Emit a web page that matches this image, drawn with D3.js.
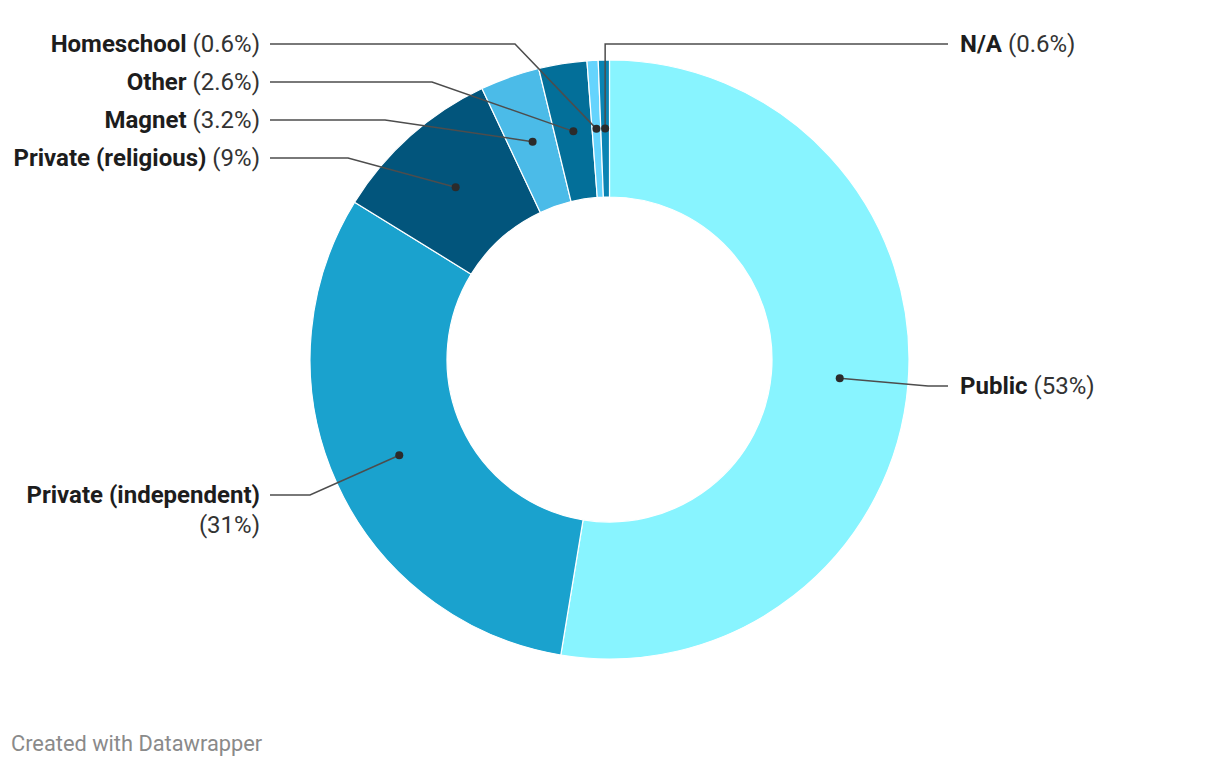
<!DOCTYPE html>
<html><head><meta charset="utf-8">
<script src="https://cdn.jsdelivr.net/npm/d3@7/dist/d3.min.js"></script>
<style>
body{margin:0;background:#fff;font-family:Roboto,sans-serif;}
svg{display:block;}
</style></head><body>
<svg id="chart" width="1220" height="766"></svg>
<script>
// Data
const categories = ["Public","Private (independent)","Private (religious)","Magnet","Other","Homeschool","N/A"];
const values = [52.6, 31.2, 9.2, 3.2, 2.6, 0.6, 0.6];
const valueLabels = ["53%","31%","9%","3.2%","2.6%","0.6%","0.6%"];
const colors = ["#88f4ff","#1aa2ce","#02557c","#4bbbe8","#036f99","#65d4fd","#0a84b3"];

// Label layout (side, line y, elbow x)
const labelLayout = [
  {side:"right", y:386, elbow:928},
  {side:"left",  y:495, elbow:310},
  {side:"left",  y:158, elbow:348},
  {side:"left",  y:120, elbow:385},
  {side:"left",  y:82,  elbow:432},
  {side:"left",  y:44,  elbow:515},
  {side:"right", y:44,  elbow:"vertical"}
];

const svg = d3.select("#chart");
const cx = 609.5, cy = 359.5, R = 299.5, r = 162.5;
const fs = 24;

const pie = d3.pie().sort(null).value(d => d)(values);
const arc = d3.arc().innerRadius(r).outerRadius(R);
const mid = d3.arc().innerRadius((R+r)/2).outerRadius((R+r)/2);

const g = svg.append("g").attr("transform", `translate(${cx},${cy})`);
g.selectAll("path.slice").data(pie).enter().append("path")
  .attr("class","slice")
  .attr("d", arc)
  .attr("fill", (d,i) => colors[i])
  .attr("stroke", "#fff").attr("stroke-width", 1.2).attr("stroke-linejoin","round");

const lineColor = "#4d4d4d";
const lines = svg.append("g");
const texts = svg.append("g");

pie.forEach((d,i) => {
  const c = mid.centroid(d);
  const px = cx + c[0], py = cy + c[1];
  const L = labelLayout[i];
  let pts;
  let tx, anchor;
  if (L.side === "left") {
    pts = [[270, L.y],[L.elbow, L.y],[px, py]];
    tx = 260; anchor = "end";
  } else if (L.elbow === "vertical") {
    pts = [[px, py],[px, L.y],[948, L.y]];
    tx = 960; anchor = "start";
  } else {
    pts = [[px, py],[L.elbow, L.y],[948, L.y]];
    tx = 960; anchor = "start";
  }
  lines.append("path")
    .attr("d", d3.line()(pts))
    .attr("fill","none").attr("stroke", lineColor).attr("stroke-width", 1.5);
  lines.append("circle").attr("cx", px).attr("cy", py).attr("r", 4).attr("fill", "#2b2b2b");

  const t = texts.append("text")
    .attr("x", tx).attr("y", L.y).attr("dy", "0.35em")
    .attr("text-anchor", anchor)
    .attr("font-size", fs);
  if (i === 1) {
    t.append("tspan").attr("font-weight", 700).attr("fill", "#1d1d1d").text(categories[i]);
    texts.append("text").attr("x", tx).attr("y", L.y + 30).attr("dy","0.35em")
      .attr("text-anchor", anchor).attr("font-size", fs).attr("fill", "#333")
      .text("(" + valueLabels[i] + ")");
  } else {
    t.append("tspan").attr("font-weight", 700).attr("fill", "#1d1d1d").text(categories[i]);
    t.append("tspan").attr("fill", "#333").text(" (" + valueLabels[i] + ")");
  }
});

svg.append("text").attr("x", 11).attr("y", 743).attr("dy","0.35em")
  .attr("font-size", 21.8).attr("fill", "#8a8a8a").text("Created with Datawrapper");
</script>
</body></html>
